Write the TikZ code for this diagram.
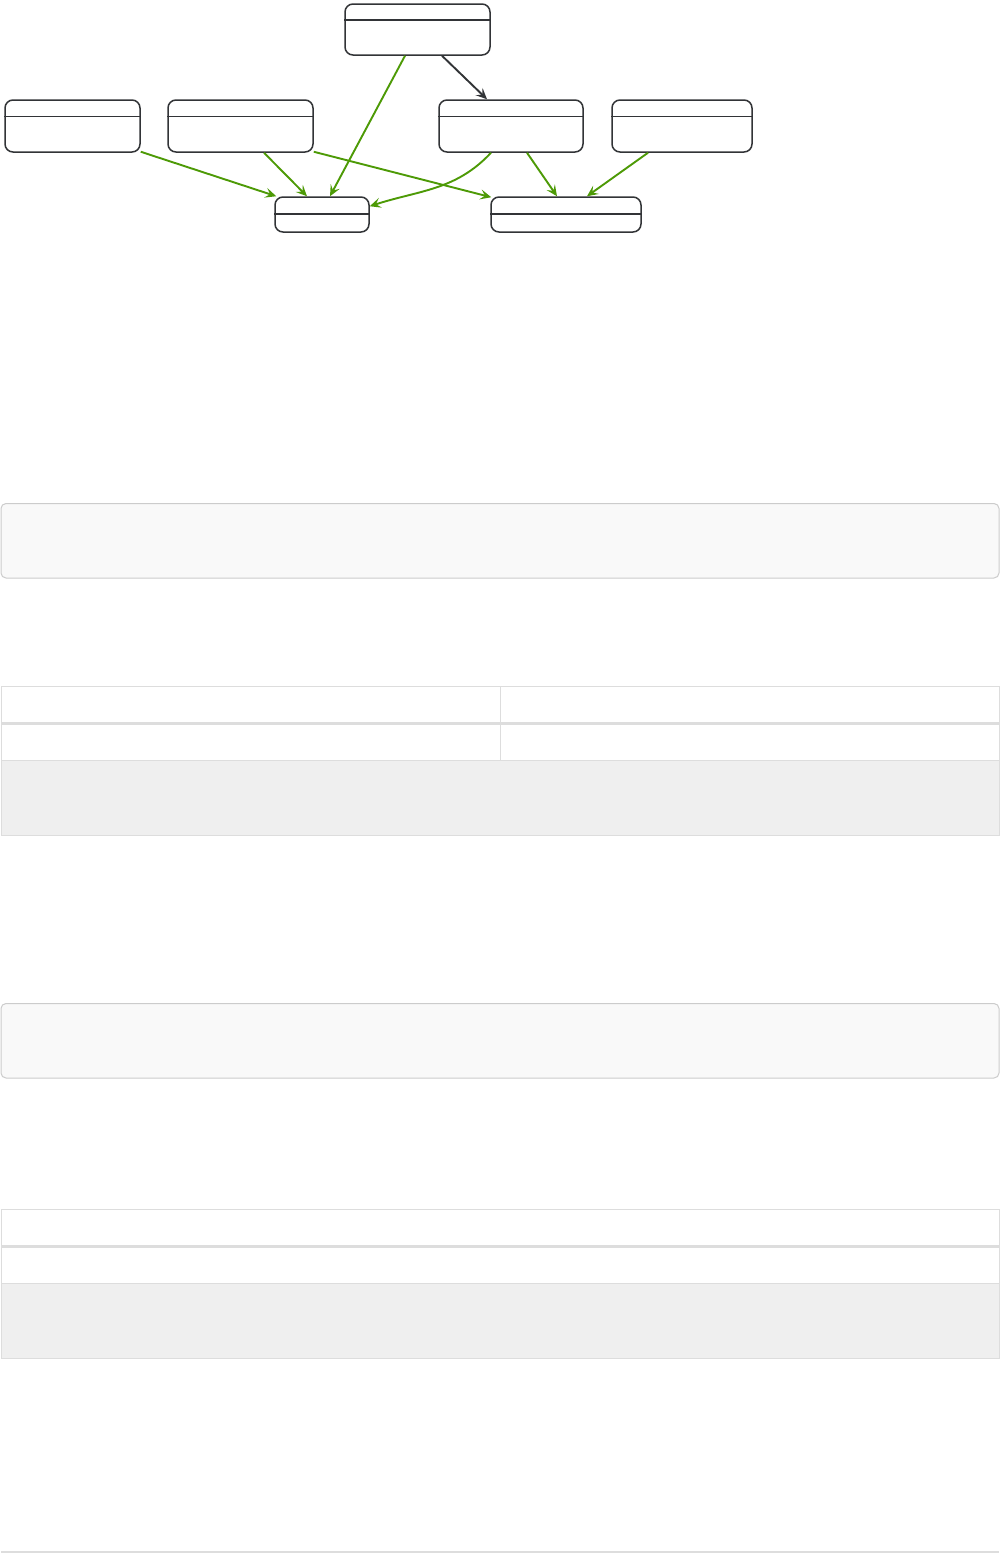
\documentclass[tikz,border=0pt]{standalone}
\usetikzlibrary{arrows.meta}
\definecolor{edgegreen}{RGB}{77,154,6}
\definecolor{boxline}{RGB}{50,52,55}
\definecolor{panelfill}{RGB}{249,249,249}
\definecolor{panelline}{RGB}{204,204,204}
\definecolor{tabline}{RGB}{221,221,221}
\definecolor{tabfill}{RGB}{239,239,239}
\begin{document}
\begin{tikzpicture}[x=1pt,y=-1pt,
  statebox/.style={draw=boxline, line width=1.5pt, rounded corners=8pt, fill=white, inner sep=0pt},
  tip/.style={-{Stealth[length=11pt,width=10pt,inset=4.5pt]}},
  garrow/.style={tip, draw=edgegreen, line width=1.9pt},
  darrow/.style={tip, draw=boxline, line width=1.9pt},
  panel/.style={draw=panelline, fill=panelfill, line width=1pt, rounded corners=5pt},
  tabcell/.style={draw=tabline, line width=1pt}
]
\useasboundingbox (0,0) rectangle (1000,1553);
\fill[white] (0,0) rectangle (1000,1553);

% state boxes
\node[statebox, minimum width=145pt, minimum height=51pt] (top) at (417.5,29.5) {};
\node[statebox, minimum width=135pt, minimum height=52pt] (A) at (72.5,126) {};
\node[statebox, minimum width=145pt, minimum height=52pt] (B) at (240.5,126) {};
\node[statebox, minimum width=144pt, minimum height=52pt] (C) at (511,126) {};
\node[statebox, minimum width=140pt, minimum height=52pt] (D) at (682,126) {};
\node[statebox, minimum width=94pt, minimum height=35pt] (E) at (322,214.5) {};
\node[statebox, minimum width=150pt, minimum height=35pt] (F) at (566,214.5) {};

% dividers
\draw[boxline, line width=2.4pt] ([yshift=-17]top.north west) -- ([yshift=-17]top.north east);
\foreach \n in {A,B,C,D}
  \draw[boxline, line width=1.4pt] ([yshift=-17]\n.north west) -- ([yshift=-17]\n.north east);
\draw[boxline, line width=2.4pt] ([yshift=-18]E.north west) -- ([yshift=-18]E.north east);
\draw[boxline, line width=2.4pt] ([yshift=-18]F.north west) -- ([yshift=-18]F.north east);

% connectors
\draw[darrow] ([xshift=24.5]top.south) -- ([xshift=-24]C.north);
\draw[garrow] ([xshift=-12.5]top.south) -- ([xshift=8]E.north);
\draw[garrow] ([yshift=1]A.south east) -- ([xshift=2]E.north west);
\draw[garrow] ([xshift=23.5]B.south) -- ([xshift=-15]E.north);
\draw[garrow] ([yshift=1]B.south east) -- ([xshift=1,yshift=-1]F.north west);
\draw[garrow] ([xshift=-20]C.south) to[out=-133,in=18] ([yshift=-10]E.north east);
\draw[garrow] ([xshift=16]C.south) -- ([xshift=-9]F.north);
\draw[garrow] ([xshift=-34]D.south) -- ([xshift=21]F.north);

% panel 1
\draw[panel] (1,503.5) rectangle (999,578) node[pos=0.5] (panelone) {};
% table 1
\fill[tabfill] (1,760) rectangle (999,835);
\draw[tabcell] (1,686) rectangle (999,835);
\draw[tabcell] (500.5,686) -- (500.5,760);
\fill[tabline] (1,722) rectangle (999,725);
\draw[tabcell] (1,760) -- (999,760);

% panel 2
\draw[panel] (1,1003.5) rectangle (999,1078) node[pos=0.5] (paneltwo) {};
% table 2
\fill[tabfill] (1,1283) rectangle (999,1358);
\draw[tabcell] (1,1209) rectangle (999,1358);
\fill[tabline] (1,1245) rectangle (999,1248);
\draw[tabcell] (1,1283) -- (999,1283);

% bottom rule
\draw[tabline, line width=1.2pt] (1,1552) -- (999,1552);
\end{tikzpicture}
\end{document}
